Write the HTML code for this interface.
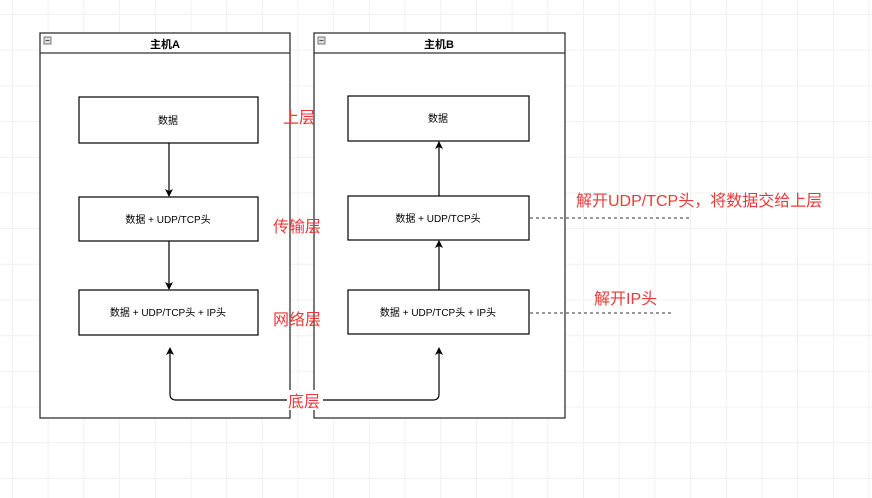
<!DOCTYPE html>
<html><head><meta charset="utf-8"><style>
body{margin:0;width:872px;height:498px;overflow:hidden;background:#fff;
background-image:linear-gradient(#f1f1f1 1px,transparent 1px),linear-gradient(90deg,#f1f1f1 1px,transparent 1px);
background-size:35.7px 35.7px;background-position:12px 14px;
font-family:"Liberation Sans","Noto Sans CJK SC",sans-serif;}
</style></head><body>
<svg width="872" height="498" style="position:absolute;left:0;top:0" font-family="Liberation Sans, Noto Sans CJK SC, sans-serif">
<defs><marker id="a" markerWidth="8" markerHeight="8" refX="7" refY="4" orient="auto" markerUnits="userSpaceOnUse"><path d="M0,0 L8,4 L0,8 L2,4z" fill="#000"/></marker></defs>
<g fill="#fff" stroke="#333" stroke-width="1.3">
<rect x="40" y="33" width="250" height="385"/><line x1="40" y1="53" x2="290" y2="53"/>
<rect x="314" y="33" width="251" height="385"/><line x1="314" y1="53" x2="565" y2="53"/>
</g>
<g fill="#ddd" stroke="#777" stroke-width="1"><rect x="44" y="37" width="7" height="7"/><rect x="318" y="37" width="7" height="7"/></g>
<g stroke="#555"><line x1="45.5" y1="40.5" x2="49.5" y2="40.5"/><line x1="319.5" y1="40.5" x2="323.5" y2="40.5"/></g>
<g font-size="11" text-anchor="middle" font-weight="bold"><text x="165" y="48">主机A</text><text x="439" y="48">主机B</text></g>
<g fill="#fff" stroke="#000" stroke-width="1.2">
<rect x="79" y="97" width="179" height="46"/><rect x="79" y="197" width="179" height="44"/><rect x="79" y="290" width="179" height="45"/>
<rect x="348" y="96" width="181" height="45"/><rect x="348" y="196" width="181" height="44"/><rect x="348" y="290" width="181" height="44"/>
</g>
<g font-size="10" text-anchor="middle">
<text x="168" y="124">数据</text><text x="168" y="223">数据 + UDP/TCP头</text><text x="168" y="316">数据 + UDP/TCP头 + IP头</text>
<text x="438" y="122">数据</text><text x="438" y="222">数据 + UDP/TCP头</text><text x="438" y="316">数据 + UDP/TCP头 + IP头</text>
</g>
<g stroke="#000" stroke-width="1.2" fill="none" marker-end="url(#a)">
<line x1="169" y1="143" x2="169" y2="196"/><line x1="169" y1="241" x2="169" y2="289"/>
<line x1="439" y1="196" x2="439" y2="142"/><line x1="439" y1="290" x2="439" y2="241"/>
</g>
<path d="M170,350 L170,394 Q170,400 176,400 L433,400 Q439,400 439,394 L439,350" stroke="#000" stroke-width="1.2" fill="none"/>
<path d="M170,347 L174,355 L170,353 L166,355z M439,347 L443,355 L439,353 L435,355z" fill="#000"/>
<rect x="287" y="390" width="36" height="20" fill="#fff"/>
<g fill="#e83a3a" font-size="16">
<text x="283" y="123">上层</text><text x="273" y="232">传输层</text><text x="273" y="325">网络层</text>
<text x="288" y="407">底层</text>
<text x="576" y="206">解开UDP/TCP头，将数据交给上层</text>
<text x="594" y="304">解开IP头</text>
</g>
<g stroke="#333" stroke-dasharray="3,3"><line x1="530" y1="218" x2="692" y2="218"/><line x1="530" y1="313" x2="673" y2="313"/></g>
</svg>
</body></html>
